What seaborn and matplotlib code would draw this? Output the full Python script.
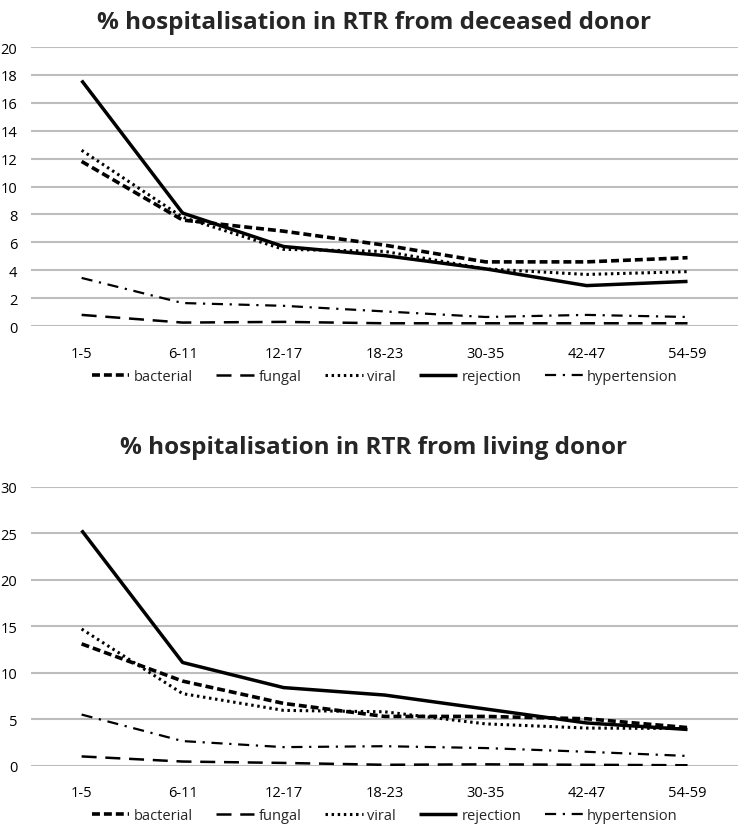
import pandas as pd
import seaborn as sns
import matplotlib.pyplot as plt

# months after transplant
periods = ['1-5', '6-11', '12-17', '18-23', '30-35', '42-47', '54-59']
series_names = ['bacterial', 'fungal', 'viral', 'rejection', 'hypertension']

# % hospitalisation, deceased donor
deceased_bacterial = [11.8, 7.6, 6.8, 5.8, 4.6, 4.6, 4.9]
deceased_fungal = [0.8, 0.25, 0.3, 0.2, 0.2, 0.2, 0.2]
deceased_viral = [12.6, 7.8, 5.5, 5.35, 4.1, 3.7, 3.9]
deceased_rejection = [17.6, 8.1, 5.7, 5.05, 4.1, 2.9, 3.2]
deceased_hypertension = [3.45, 1.65, 1.45, 1.05, 0.65, 0.8, 0.65]

# % hospitalisation, living donor
living_bacterial = [13.1, 9.1, 6.7, 5.3, 5.3, 5.05, 4.1]
living_fungal = [1.0, 0.45, 0.3, 0.1, 0.15, 0.1, 0.05]
living_viral = [14.7, 7.75, 5.95, 5.8, 4.5, 4.05, 4.0]
living_rejection = [25.3, 11.1, 8.4, 7.6, 6.1, 4.6, 3.9]
living_hypertension = [5.5, 2.65, 2.0, 2.1, 1.9, 1.5, 1.05]

line_styles = {
    'bacterial': dict(dashes=(2.2, 1.1), lw=2.6),
    'fungal': dict(dashes=(6, 3.5), lw=1.8),
    'viral': dict(dashes=(0.8, 1.2), lw=2.2),
    'rejection': dict(dashes=(1, 0), lw=2.5),
    'hypertension': dict(dashes=(5, 3, 1, 3), lw=1.6),
}

sns.set_theme(style='white')
plt.rcParams['font.family'] = ['Open Sans', 'DejaVu Sans']

fig = plt.figure(figsize=(7.41, 8.28), dpi=100)
ax_top = fig.add_axes([0.042, 0.605, 0.954, 0.337])
ax_bot = fig.add_axes([0.042, 0.074, 0.954, 0.337])


def draw_panel(ax, values, title, ymax, ystep, legend_y, title_pad):
    df = pd.DataFrame({'period': periods * len(series_names),
                       'series': [s for s in series_names for _ in periods],
                       'value': sum(values, [])})
    for name in series_names:
        sub = df[df['series'] == name]
        st = line_styles[name]
        sns.lineplot(data=sub, x='period', y='value', ax=ax, color='black',
                     linewidth=st['lw'], dashes=False, label=name, sort=False)
        ax.lines[-1].set_dashes(st['dashes'])
    ax.set_xlim(-0.5, len(periods) - 0.5)
    ax.set_ylim(0, ymax)
    ax.set_yticks(range(0, ymax + 1, ystep))
    ax.yaxis.grid(True, color='#bdbdbd', linewidth=1.5)
    ax.set_axisbelow(True)
    for sp in ax.spines.values():
        sp.set_visible(False)
    ax.tick_params(axis='both', length=0, labelsize=10.5, colors='black')
    ax.tick_params(axis='x', pad=14)
    ax.tick_params(axis='y', pad=10)
    ax.set_xlabel('')
    ax.set_ylabel('')
    ax.set_title(title, fontsize=17.5, fontweight='bold', pad=title_pad, x=0.485)
    handles, labels = ax.get_legend_handles_labels()
    ax.legend(handles, labels, loc='center', bbox_to_anchor=(0.5, legend_y),
              ncol=5, frameon=False, fontsize=10.5, handlelength=2.6,
              handletextpad=0.3, columnspacing=1.6)


draw_panel(ax_top,
           [deceased_bacterial, deceased_fungal, deceased_viral,
            deceased_rejection, deceased_hypertension],
           '% hospitalisation in RTR from deceased donor', 20, 2, -0.18, 14)
draw_panel(ax_bot,
           [living_bacterial, living_fungal, living_viral,
            living_rejection, living_hypertension],
           '% hospitalisation in RTR from living donor', 30, 5, -0.18, 24)

plt.savefig('out.png', dpi=100)
